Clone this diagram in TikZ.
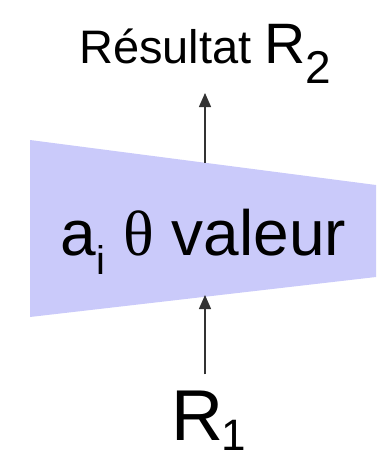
\documentclass[tikz,border=0pt]{standalone}
\usepackage{fontspec}
\setmainfont{Liberation Sans}
\newfontfamily\thetafont{Liberation Serif}
\usetikzlibrary{arrows.meta}
\definecolor{bloc}{RGB}{202,202,250}

\tikzset{
  fleche/.style = {draw=black!80, line width=1.3pt, -{Triangle[length=14pt, width=12pt]}},
  texte/.style  = {inner sep=0pt, anchor=base west}
}

\begin{document}
\begin{tikzpicture}[x=1pt, y=-1pt]
  \useasboundingbox (0,0) rectangle (376,463);
  % le bloc de selection
  \fill[bloc] (30,140) -- (376,185) -- (376,277) -- (30,317) -- cycle;
  \node[texte, font=\fontsize{64}{66}\selectfont] (op) at (60,255)
    {a\kern1pt\raisebox{-0.3em}{\fontsize{40}{40}\selectfont i} {\thetafont θ} valeur};
  % resultat
  \node[texte, font=\fontsize{47}{49}\selectfont] (res) at (79,63)
    {Résultat \fontsize{57}{59}\selectfont R\raisebox{-0.36em}{\fontsize{46}{46}\selectfont 2}};
  % relation d'entree
  \node[texte, font=\fontsize{72}{76}\selectfont] (r1) at (171,440)
    {R\kern-2pt\raisebox{-0.14em}{\fontsize{44}{44}\selectfont 1}};
  \coordinate (haut) at (205,163);
  \coordinate (bas) at (205,295);
  \draw[fleche] (haut) -- (205,93);
  \draw[fleche] (r1.north -| bas) ++(0,-16) -- (bas);
\end{tikzpicture}
\end{document}
